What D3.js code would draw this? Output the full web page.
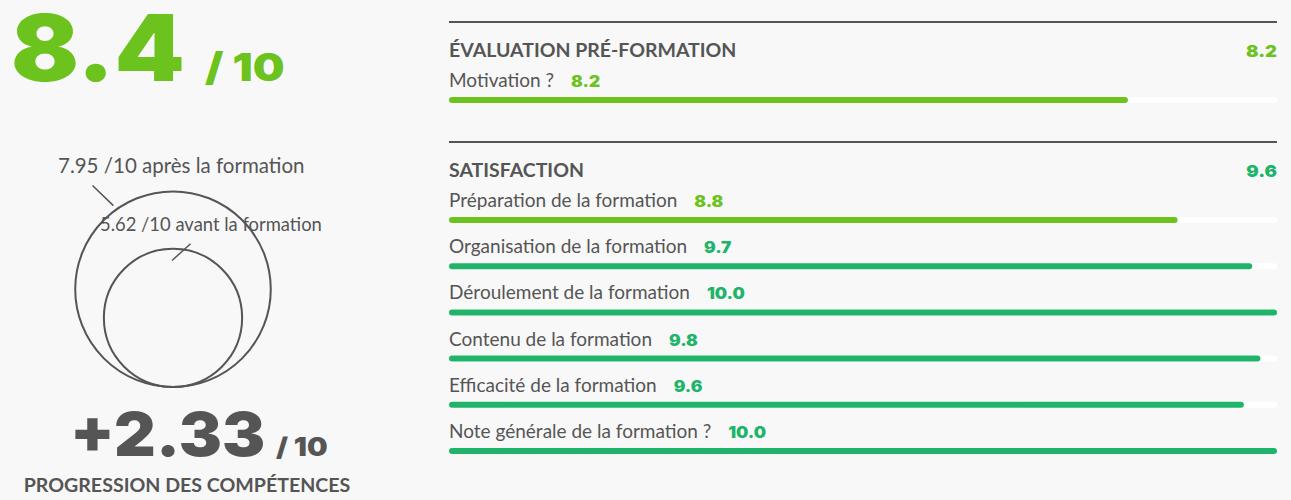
<!DOCTYPE html>
<html>
<head>
<meta charset="utf-8">
<script src="https://cdn.jsdelivr.net/npm/d3@7"></script>
<style>
  body { margin: 0; background: #f8f8f8; }
  svg { display: block; }
  .label { font-family: Lato, sans-serif; fill: #555; }
  .heavy { font-family: Inter, "Open Sans", sans-serif; font-weight: 900; }
</style>
</head>
<body>
<div id="chart"></div>
<script>
// data
const globalScore = 8.4;
const scoreMax = 10;
const beforeScore = 5.62;
const afterScore = 7.95;
const progression = 2.33;

const sectionTitles = ['ÉVALUATION PRÉ-FORMATION', 'SATISFACTION'];
const sectionScores = [8.2, 9.6];

const preLabels = ['Motivation ?'];
const preValues = [8.2];

const satLabels = [
  'Préparation de la formation',
  'Organisation de la formation',
  'Déroulement de la formation',
  'Contenu de la formation',
  'Efficacité de la formation',
  'Note générale de la formation ?'
];
const satValues = [8.8, 9.7, 10.0, 9.8, 9.6, 10.0];

const width = 1291;
const height = 500;
const lime = '#6cc31d';
const teal = '#20b46a';
const grey = '#555';

const colorOf = v => v >= 9 ? teal : lime;

const svg = d3.select('#chart')
    .append('svg')
    .attr('width', width)
    .attr('height', height);

svg.append('rect')
    .attr('width', width)
    .attr('height', height)
    .attr('fill', '#f8f8f8');

// heavy numbers are drawn a bit wider than the font gives
function heavy(g, x, y, size, sx, fill, txt, anchor) {
  return g.append('text')
      .attr('class', 'heavy')
      .attr('transform', `translate(${x},${y}) scale(${sx},1)`)
      .attr('text-anchor', anchor || 'start')
      .attr('fill', fill)
      .style('font-size', size + 'px')
      .text(txt);
}

// ---- left: overall score
const left = svg.append('g');

heavy(left, 11, 81, 92, 1.09, lime, globalScore.toFixed(1));
heavy(left, 205, 81, 39, 1.15, lime, '/ ' + scoreMax);

// circles: radius proportional to the score
const rScale = d3.scaleLinear().domain([0, scoreMax]).range([0, 123]);
const cx = 173;
const baseY = 387;

const circles = [
  { v: afterScore, text: afterScore + ' /10 après la formation', size: 20.5, tx: 58, ty: 173,
    at: -125.5, k: 1.05, dir: -136, len: 29 },
  { v: beforeScore, text: beforeScore + ' /10 avant la formation', size: 18.4, tx: 100, ty: 231,
    at: -91, k: 0.83, dir: -42, len: 25 }
];

left.selectAll('.bubble')
    .data(circles)
    .enter()
    .append('circle')
    .classed('bubble', true)
    .attr('cx', cx)
    .attr('cy', d => baseY - rScale(d.v))
    .attr('r', d => rScale(d.v))
    .attr('fill', 'none')
    .attr('stroke', grey)
    .attr('stroke-width', 2);

// leader lines between the label and the circle
const rad = a => a * Math.PI / 180;
left.selectAll('.leader')
    .data(circles)
    .enter()
    .append('line')
    .classed('leader', true)
    .attr('x1', d => cx + Math.cos(rad(d.at)) * rScale(d.v) * d.k)
    .attr('y1', d => baseY - rScale(d.v) + Math.sin(rad(d.at)) * rScale(d.v) * d.k)
    .attr('x2', d => cx + Math.cos(rad(d.at)) * rScale(d.v) * d.k + Math.cos(rad(d.dir)) * d.len)
    .attr('y2', d => baseY - rScale(d.v) + Math.sin(rad(d.at)) * rScale(d.v) * d.k + Math.sin(rad(d.dir)) * d.len)
    .attr('stroke', grey)
    .attr('stroke-width', 1.5);

left.selectAll('.bubble-label')
    .data(circles)
    .enter()
    .append('text')
    .attr('class', 'label')
    .attr('x', d => d.tx)
    .attr('y', d => d.ty)
    .style('font-size', d => d.size + 'px')
    .text(d => d.text);

heavy(left, 70, 456, 61, 1.06, grey, '+' + progression.toFixed(2));
heavy(left, 276, 456, 26, 1.12, grey, '/ ' + scoreMax);

left.append('text')
    .attr('class', 'label')
    .attr('x', 187)
    .attr('y', 492)
    .attr('text-anchor', 'middle')
    .style('font-size', '19.6px')
    .style('font-weight', 700)
    .text('PROGRESSION DES COMPÉTENCES');

// ---- right: bars
const x = d3.scaleLinear().domain([0, scoreMax]).range([449, 1277]);

const sections = [
  { title: sectionTitles[0], score: sectionScores[0], labels: preLabels, values: preValues, top: 22 },
  { title: sectionTitles[1], score: sectionScores[1], labels: satLabels, values: satValues, top: 142 }
];

sections.forEach(sec => {
  const g = svg.append('g');

  g.append('line')
      .attr('x1', x(0)).attr('x2', x(scoreMax))
      .attr('y1', sec.top).attr('y2', sec.top)
      .attr('stroke', grey)
      .attr('stroke-width', 2);

  g.append('text')
      .attr('class', 'label')
      .attr('x', x(0))
      .attr('y', sec.top + 35)
      .style('font-size', '19.5px')
      .style('font-weight', 700)
      .text(sec.title);

  heavy(g, x(scoreMax), sec.top + 35, 16.5, 1.12, colorOf(sec.score), sec.score.toFixed(1), 'end');

  const rows = sec.labels.map((l, i) => ({ label: l, value: sec.values[i] }));
  const y = d3.scaleLinear()
      .domain([0, 1])
      .range([sec.top + 65, sec.top + 65 + 46.2]);

  const row = g.selectAll('.row')
      .data(rows)
      .enter()
      .append('g')
      .classed('row', true)
      .attr('transform', (d, i) => `translate(0,${y(i)})`);

  const lbl = row.append('text')
      .attr('class', 'label')
      .attr('x', x(0))
      .attr('y', 0)
      .style('font-size', '19px')
      .text(d => d.label);

  row.each(function (d, i) {
    const w = lbl.nodes()[i].getComputedTextLength();
    heavy(d3.select(this), x(0) + w + 17, 0, 15.5, 1.12, colorOf(d.value), d.value.toFixed(1));
  });

  row.append('rect')
      .attr('x', x(0))
      .attr('y', 10)
      .attr('width', x(scoreMax) - x(0))
      .attr('height', 6)
      .attr('rx', 3)
      .attr('fill', '#fff');

  row.append('rect')
      .attr('x', x(0))
      .attr('y', 10)
      .attr('width', d => x(d.value) - x(0))
      .attr('height', 6)
      .attr('rx', 3)
      .attr('fill', d => colorOf(d.value));
});
</script>
</body>
</html>
